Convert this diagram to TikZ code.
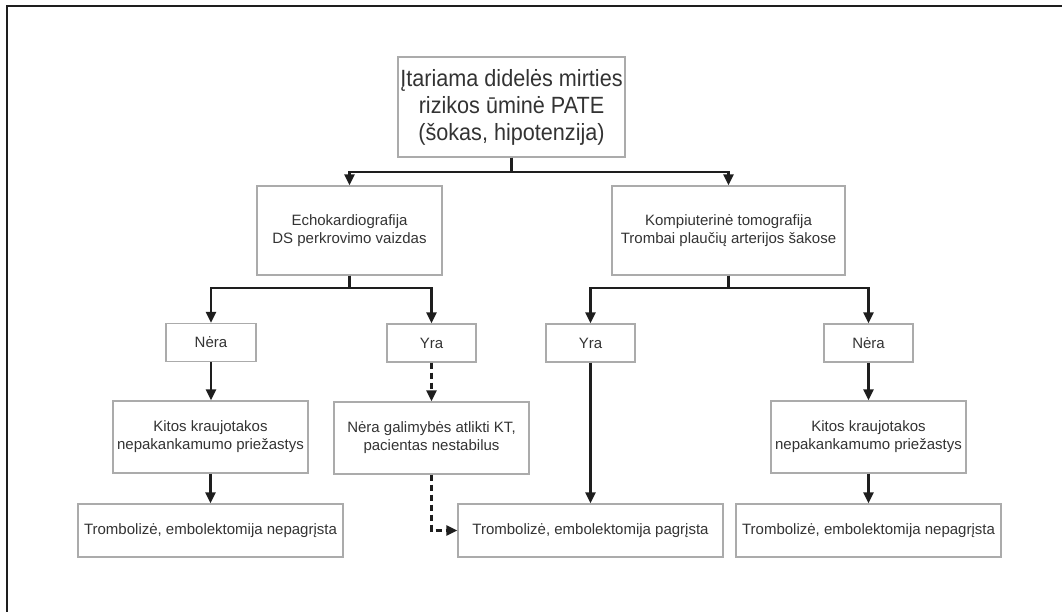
\documentclass[tikz,border=0pt]{standalone}
\usepackage{fontspec}
\setmainfont{Liberation Sans}
\newfontfamily\narrowf[FakeStretch=0.92]{Liberation Sans}
\usetikzlibrary{arrows.meta}
\definecolor{boxline}{HTML}{ABABAB}
\definecolor{txt}{HTML}{333333}
\definecolor{arr}{HTML}{1E1E1E}
\tikzset{
  box/.style={draw=boxline, line width=1.2bp, align=center, text=txt,
    inner sep=0pt, font=\fontsize{15bp}{18bp}\selectfont},
  bigbox/.style={box, font=\narrowf\fontsize{23.5bp}{27bp}\selectfont},
  conn/.style={draw=arr, line width=2.2bp, -{Triangle[length=11bp,width=10bp]}},
  dconn/.style={conn, dash pattern=on 6bp off 4bp},
  frame/.style={draw=arr, line width=2.2bp}
}
\begin{document}
\begin{tikzpicture}[x=1bp,y=-1bp]
\useasboundingbox (0,0) rectangle (1062,612);
\draw[frame] (7,612) -- (7,6) -- (1062,6);

\node[bigbox, minimum width=227bp, minimum height=100bp] (top) at (511.5,107)
  {Įtariama didelės mirties\\rizikos ūminė PATE\\(šokas, hipotenzija)};

\node[box, minimum width=185bp, minimum height=89bp] (echo) at (349.5,230.5)
  {Echokardiografija\\DS perkrovimo vaizdas};
\node[box, minimum width=233bp, minimum height=89bp] (komp) at (728.5,230.5)
  {Kompiuterinė tomografija\\Trombai plaučių arterijos šakose};

\node[box, minimum width=90bp, minimum height=38bp] (neraL) at (211,342.5) {Nėra};
\node[box, minimum width=89bp, minimum height=38bp] (yraL) at (431.5,343) {Yra};
\node[box, minimum width=89bp, minimum height=38bp] (yraR) at (590.5,343) {Yra};
\node[box, minimum width=89bp, minimum height=38bp] (neraR) at (868.5,343) {Nėra};

\node[box, minimum width=195bp, minimum height=72bp] (kitosL) at (210.5,437)
  {Kitos kraujotakos\\nepakankamumo priežastys};
\node[box, minimum width=195bp, minimum height=72bp] (galim) at (431.5,438)
  {Nėra galimybės atlikti KT,\\pacientas nestabilus};
\node[box, minimum width=195bp, minimum height=72bp] (kitosR) at (868.5,437)
  {Kitos kraujotakos\\nepakankamumo priežastys};

\node[box, minimum width=265bp, minimum height=53bp] (trL) at (210.5,530.5)
  {Trombolizė, embolektomija nepagrįsta};
\node[box, minimum width=265bp, minimum height=53bp] (trM) at (590.5,530.5)
  {Trombolizė, embolektomija pagrįsta};
\node[box, minimum width=265bp, minimum height=53bp] (trR) at (868.5,530.5)
  {Trombolizė, embolektomija nepagrįsta};

% top split
\draw[conn] (top.south) -- (511.5,172) -| (echo.north);
\draw[conn] (top.south) -- (511.5,172) -| (komp.north);
% echo split
\draw[conn] (echo.south) -- (349.5,288) -| (neraL.north);
\draw[conn] (echo.south) -- (349.5,288) -| (yraL.north);
% komp split
\draw[conn] (komp.south) -- (728.5,288) -| (yraR.north);
\draw[conn] (komp.south) -- (728.5,288) -| (neraR.north);

\draw[conn] (neraL.south) -- (kitosL.north -| neraL.south);
\draw[conn] (kitosL.south) -- (trL.north);
\draw[dconn] (yraL.south) -- (galim.north);
\draw[dconn] (galim.south) |- (trM.west);
\draw[conn] (yraR.south) -- (trM.north);
\draw[conn] (neraR.south) -- (kitosR.north);
\draw[conn] (kitosR.south) -- (trR.north);
\end{tikzpicture}
\end{document}
